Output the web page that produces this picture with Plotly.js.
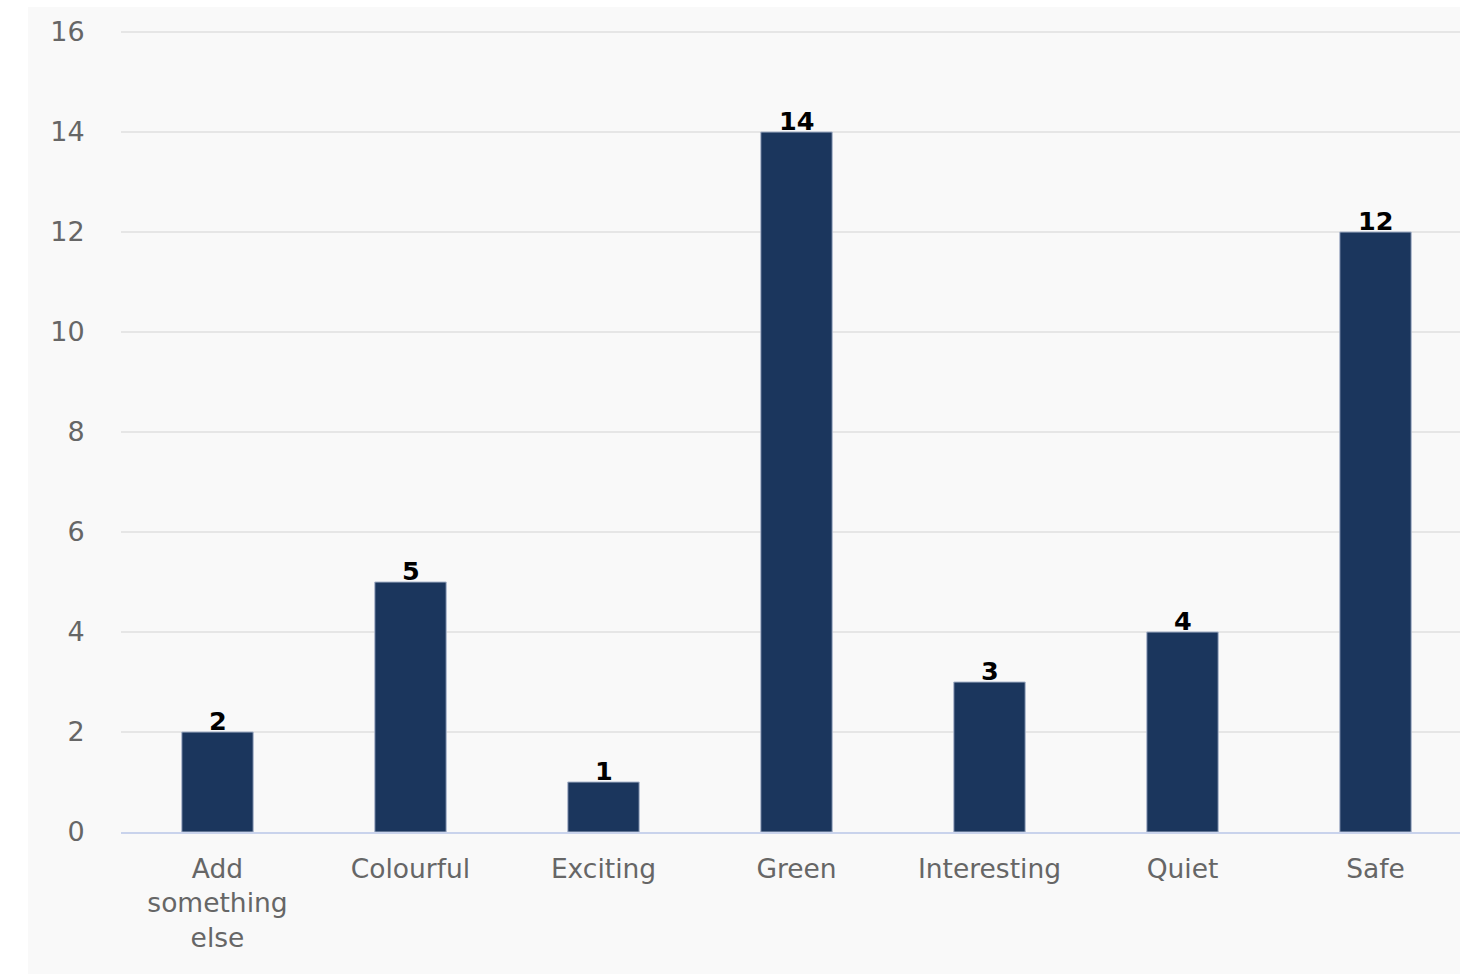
<!DOCTYPE html>
<html>
<head>
<meta charset="utf-8">
<script src="https://cdn.plot.ly/plotly-3.0.1.min.js"></script>
<style>
html,body{margin:0;padding:0;background:#ffffff;overflow:hidden;width:1460px;height:974px;}
#chart{position:absolute;left:28px;top:7px;width:1444px;height:967px;}
</style>
</head>
<body>
<div id="chart"></div>
<script>
const categories = ["Add<br>something<br>else", "Colourful", "Exciting", "Green", "Interesting", "Quiet", "Safe"];
const counts = [2, 5, 1, 14, 3, 4, 12];
const yTicks = [0, 2, 4, 6, 8, 10, 12, 14, 16];

const trace = {
  type: 'bar',
  x: categories,
  y: counts,
  marker: {color: '#1b365d', line: {color: '#aab6cc', width: 1}},
  hoverinfo: 'none'
};

const annotations = categories.map((c, i) => ({
  x: c,
  y: counts[i],
  xref: 'x',
  yref: 'y',
  text: String(counts[i]),
  showarrow: false,
  yanchor: 'bottom',
  yshift: -6,
  font: {family: 'DejaVu Sans', size: 25.5, color: '#000000', weight: 'bold'}
}));

const layout = {
  width: 1444,
  height: 967,
  margin: {l: 93, r: 0, t: 20, b: 142},
  paper_bgcolor: '#f9f9f9',
  plot_bgcolor: '#f9f9f9',
  bargap: 0.63,
  showlegend: false,
  annotations: annotations,
  font: {family: 'DejaVu Sans', color: '#666666', size: 27},
  xaxis: {
    type: 'category',
    showgrid: false,
    showline: true,
    linecolor: '#c9d3ec',
    linewidth: 2,
    ticks: 'outside',
    ticklen: 12,
    tickcolor: 'rgba(0,0,0,0)',
    tickfont: {family: 'DejaVu Sans', size: 26.5, color: '#666666'}
  },
  yaxis: {
    range: [0, 16.1],
    tickvals: yTicks,
    ticktext: yTicks.map(String),
    showgrid: true,
    gridcolor: '#e6e6e6',
    gridwidth: 2,
    zeroline: false,
    showline: false,
    ticks: 'outside',
    ticklen: 30,
    tickcolor: 'rgba(0,0,0,0)',
    tickfont: {family: 'DejaVu Sans', size: 27, color: '#666666'}
  }
};

Plotly.newPlot('chart', [trace], layout, {displayModeBar: false, staticPlot: true});
</script>
</body>
</html>
